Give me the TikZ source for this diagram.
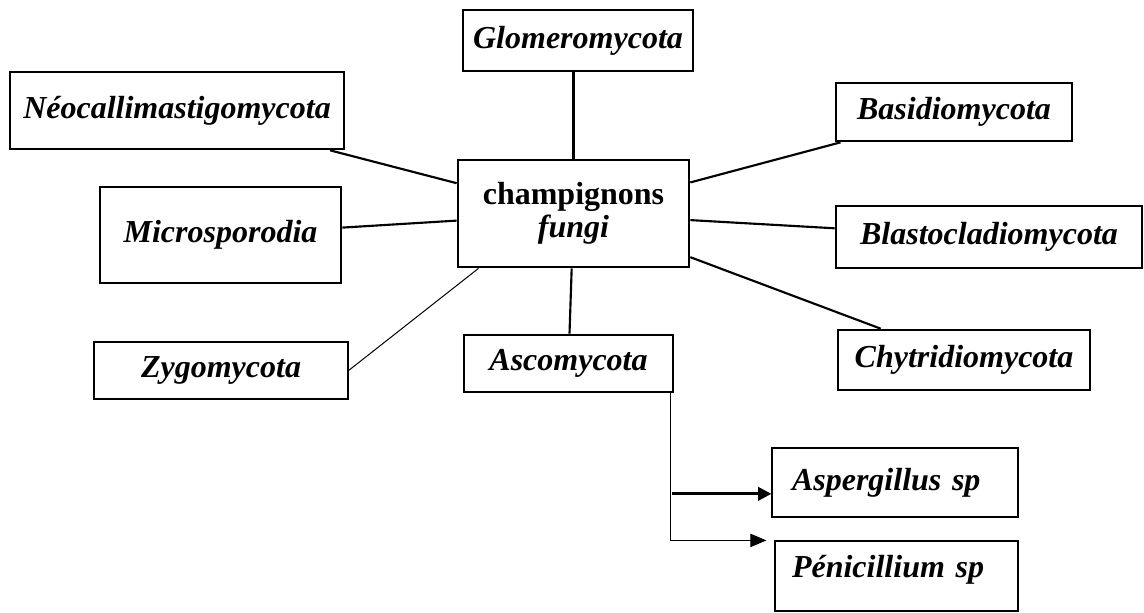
\documentclass[tikz,border=0pt]{standalone}
\usepackage{fontspec}
\setmainfont{Liberation Serif}
\usetikzlibrary{arrows.meta,calc}

\begin{document}
\begin{tikzpicture}[x=0.75pt,y=-0.75pt,
  phylum/.style={draw,line width=2pt,inner sep=0pt,font=\fontsize{24}{25}\selectfont\bfseries\itshape},
  thinbox/.style={phylum,line width=0.9pt},
  link/.style={line width=1.6pt},
  thinlink/.style={line width=0.75pt}]
\useasboundingbox (0,0) rectangle (1144,612);

% center and phyla
\node [phylum,align=center,minimum width=173.25pt,minimum height=80.25pt] (fungi) at (573.5,213.5) {\upshape champignons\\fungi};
\node [phylum,minimum width=172.5pt,minimum height=45.75pt] (glom) at (578,40.5) {Glomeromycota};
\node [phylum,minimum width=250.5pt,minimum height=57.75pt] (neo) at (177,110.5) {Néocallimastigomycota};
\node [phylum,minimum width=177pt,minimum height=43.5pt] (basi) at (954,112) {Basidiomycota};
\node [phylum,minimum width=180.75pt,minimum height=72pt] (micro) at (220.5,235) {Microsporodia};
\node [phylum,minimum width=229.5pt,minimum height=46.5pt] (blast) at (989,237) {Blastocladiomycota};
\node [thinbox,minimum width=190.5pt,minimum height=42.75pt] (zygo) at (221,370.5) {Zygomycota};
\node [phylum,minimum width=156.75pt,minimum height=42.75pt] (asco) at (568.5,363.5) {Ascomycota};
\node [phylum,minimum width=189pt,minimum height=45pt] (chyt) at (964,360) {Chytridiomycota};

% genera
\node [thinbox,inner xsep=15pt,text width=154.5pt,align=left,minimum width=184.5pt,minimum height=51.75pt] (asp) at (895,482.5) {Aspergillus sp};
\node [thinbox,inner xsep=12.75pt,text width=156.75pt,align=left,text depth=15pt,minimum width=182.25pt,minimum height=52.5pt] (peni) at (896.5,576) {Pénicillium sp};

\draw [link] (fungi.north) -- (fungi.north |- glom.south);
\draw [link] (neo) -- (fungi);
\draw [link] (micro) -- (fungi);
\draw [link] (basi) -- (fungi);
\draw [link] (blast) -- (fungi);
\draw [link] (chyt) -- (fungi);
\draw [link] (fungi) -- (asco);
\draw [thinlink] (zygo.east) -- (fungi.210);

\coordinate (split) at ([xshift=-3pt]asco.south east);
\coordinate (asptip) at ([yshift=-8.5pt]asp.west);
\draw [thinlink,-{Triangle[length=12pt,width=10pt]}] (split) |- ([xshift=-6pt]peni.north west);
\draw [line width=2.2pt,-{Triangle[length=10pt,width=10pt]}] ($(split |- asptip)+(1.5pt,0)$) -- (asptip);

\end{tikzpicture}
\end{document}
